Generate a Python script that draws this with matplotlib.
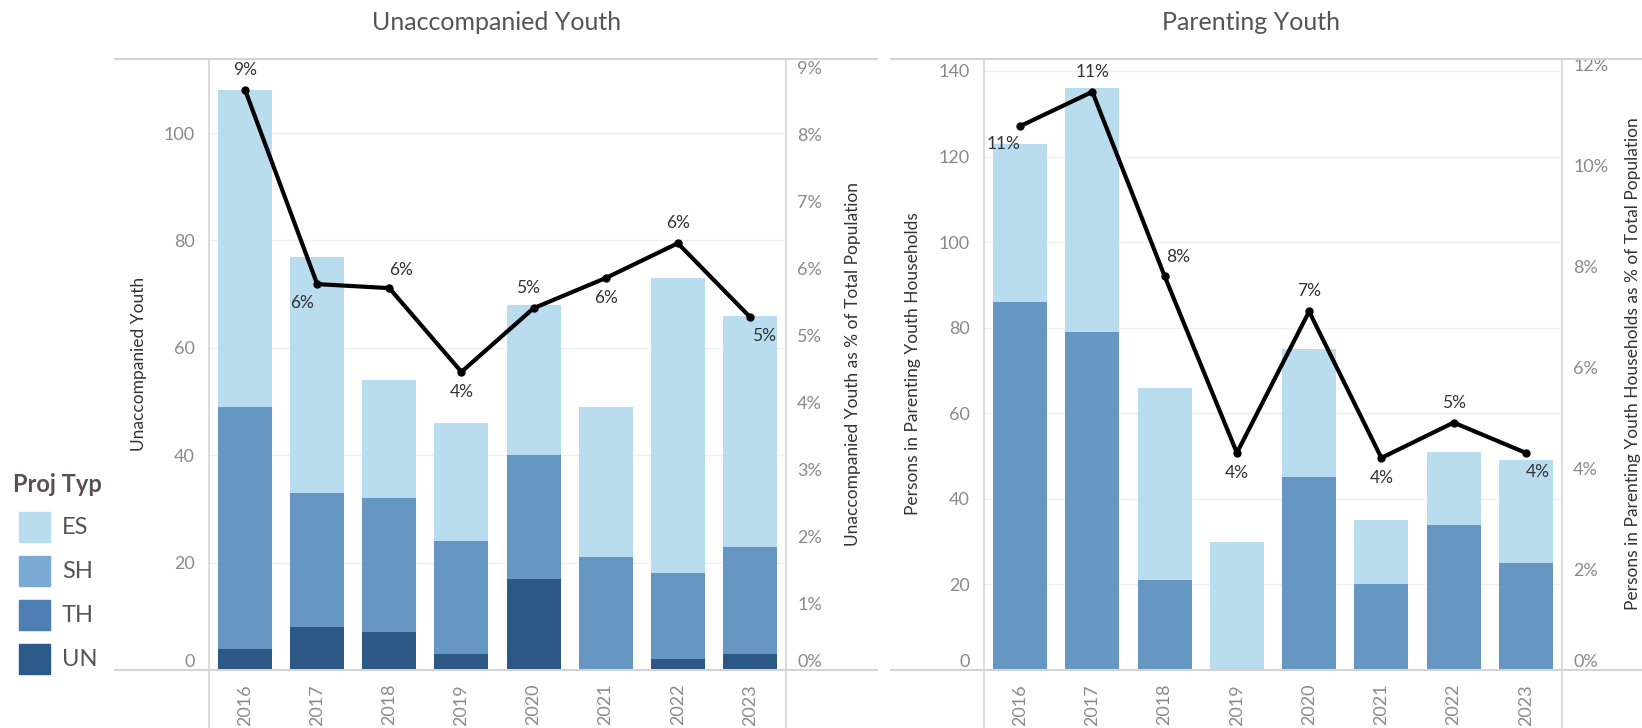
import numpy as np
import matplotlib
matplotlib.use("Agg")
import matplotlib.pyplot as plt
from matplotlib.patches import Rectangle
from matplotlib.lines import Line2D

plt.rcParams['font.family'] = ['Lato', 'DejaVu Sans']

years = ["2016", "2017", "2018", "2019", "2020", "2021", "2022", "2023"]

# Unaccompanied youth, stacked segments (bottom to top)
uy_un = [4, 8, 7, 3, 17, 0, 2, 3]
uy_th = [45, 25, 25, 21, 23, 21, 16, 20]
uy_es = [59, 44, 22, 22, 28, 28, 55, 43]
uy_pct = [8.66, 5.76, 5.70, 4.45, 5.40, 5.85, 6.37, 5.27]

# Parenting youth, stacked segments (bottom to top)
py_th = [86, 79, 21, 0, 45, 20, 34, 25]
py_es = [37, 57, 45, 30, 30, 15, 17, 24]
py_pct = [10.77, 11.45, 7.8, 4.3, 7.1, 4.2, 4.9, 4.3]

legend_names = ["ES", "SH", "TH", "UN"]
legend_colors = ["#b9dcef", "#7aaad4", "#4f7fb2", "#2b5a8a"]

# label placement for the % labels (pixel offsets)
uy_label_off = [(0, 20), (-15, -19), (12, 18), (0, -20), (-6, 20), (0, -20), (0, 20), (14, -19)]
py_label_off = [(-17, -18), (0, 20), (13, 19), (0, -20), (0, 20), (0, -20), (0, 20), (12, -19)]

ES_C = "#b9dcef"
MID_C = "#6697c3"
UN_C = "#2c5886"
TICK_C = "#8a8a8a"
AX_C = "#d4d4d4"


def draw_panel(ax, segments, colors, pct, offs, ymax, pmax, yticks, pticks, pfmt):
    x = np.arange(len(years))
    bottom = np.zeros(len(years))
    for seg, c in zip(segments, colors):
        ax.bar(x, seg, width=0.75, bottom=bottom, color=c, zorder=2)
        bottom += np.array(seg)
    ax.set_xlim(-0.5, 7.5)
    ax.set_ylim(0, ymax)
    ax.set_yticks(yticks)
    ax.set_xticks(x)
    ax.set_xticklabels(years, rotation=90, color=TICK_C, fontsize=13)
    ax.tick_params(length=0, labelsize=13, colors=TICK_C, pad=10)
    ax.grid(axis="y", color="#efefef", lw=1, zorder=0)
    for s in ax.spines.values():
        s.set_visible(False)
    labs = ax.get_yticklabels()
    labs[0].set_va("bottom")

    ax2 = ax.twinx()
    ax2.plot(x, pct, color="black", lw=3, marker="o", ms=5, zorder=5)
    for xi, v, (dx, dy) in zip(x, pct, offs):
        ax2.annotate(f"{v:.0f}%", (xi, v), xytext=(dx, dy), textcoords="offset pixels",
                     ha="center", va="center", fontsize=12.5, color="#333333")
    ax2.set_ylim(0, pmax)
    ax2.set_yticks(pticks)
    ax2.set_yticklabels([pfmt.format(t) for t in pticks])
    ax2.tick_params(length=0, labelsize=13, colors=TICK_C, pad=8)
    labs2 = ax2.get_yticklabels()
    labs2[0].set_va("bottom")
    for s in ax2.spines.values():
        s.set_visible(False)
    return ax2


fig = plt.figure(figsize=(16.42, 7.28), dpi=100)

W, H = 1642.0, 728.0


def frac(x0, y_top, x1, y_bot):
    return [x0 / W, 1 - y_bot / H, (x1 - x0) / W, (y_bot - y_top) / H]


ax1 = fig.add_axes(frac(209, 59, 786, 670))
draw_panel(ax1, [uy_un, uy_th, uy_es], [UN_C, MID_C, ES_C], uy_pct, uy_label_off,
           113.8, 9.12, [0, 20, 40, 60, 80, 100], list(range(0, 10)), "{}%")

ax3 = fig.add_axes(frac(984, 59, 1562, 670))
draw_panel(ax3, [py_th, py_es], [MID_C, ES_C], py_pct, py_label_off,
           142.8, 12.1, [0, 20, 40, 60, 80, 100, 120, 140], [0, 2, 4, 6, 8, 10, 12], "{}%")

# titles
fig.text(497 / W, 1 - 23 / H, "Unaccompanied Youth", ha="center", va="center", fontsize=18, color="#555555")
fig.text(1251 / W, 1 - 23 / H, "Parenting Youth", ha="center", va="center", fontsize=18, color="#555555")

# axis titles
fig.text(139 / W, 1 - 364 / H, "Unaccompanied Youth", rotation=90, ha="center", va="center", fontsize=12.5, color="#333333")
fig.text(853 / W, 1 - 364 / H, "Unaccompanied Youth as % of Total Population", rotation=90, ha="center", va="center", fontsize=12.5, color="#333333")
fig.text(913 / W, 1 - 364 / H, "Persons in Parenting Youth Households", rotation=90, ha="center", va="center", fontsize=12.5, color="#333333")
fig.text(1633 / W, 1 - 364 / H, "Persons in Parenting Youth Households as % of Total Population", rotation=90, ha="center", va="center", fontsize=12.5, color="#333333")

# pane borders
for x0, x1 in [(115, 877), (891, 1642)]:
    for yy in (59, 670):
        fig.add_artist(Line2D([x0 / W, x1 / W], [1 - yy / H, 1 - yy / H], color=AX_C, lw=1.5))
for xx in (209, 786, 984, 1562):
    fig.add_artist(Line2D([xx / W, xx / W], [0, 1 - 59 / H], color=AX_C, lw=1.2))

# legend
fig.text(13 / W, 1 - 485 / H, "Proj Typ", ha="left", va="center", fontsize=17, fontweight="bold", color="#5a5050")
for i, (name, c) in enumerate(zip(legend_names, legend_colors)):
    yc = 527 + 44 * i
    fig.add_artist(Rectangle((19 / W, 1 - (yc + 15) / H), 31 / W, 30 / H, color=c, transform=fig.transFigure))
    fig.text(62 / W, 1 - yc / H, name, ha="left", va="center", fontsize=17, color="#555555")

fig.savefig("out.png", dpi=100)
